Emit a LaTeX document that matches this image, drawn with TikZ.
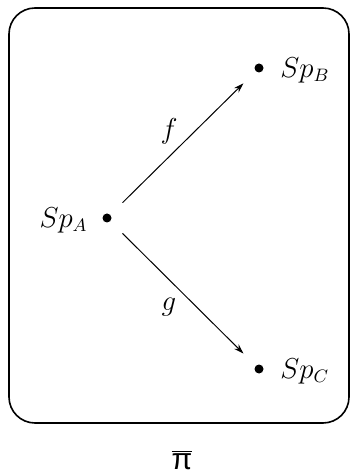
\documentclass[tikz,border=0pt]{standalone}
\usepackage{fontspec}
\newfontfamily\pisans{Liberation Sans}
\usetikzlibrary{arrows.meta}
\begin{document}
\begin{tikzpicture}[x=0.5pt,y=-0.5pt,
  dot/.style={circle,fill=black,inner sep=0pt,minimum size=4.5pt},
  lab/.style={inner sep=0pt,font=\fontsize{13.5}{16}\selectfont},
  conn/.style={line width=0.5pt,-{Stealth[length=5pt,width=3.2pt]},shorten <=8.5pt,shorten >=8.5pt},
  frame/.style={line width=0.8pt,rounded corners=13pt}]
\useasboundingbox (0,0) rectangle (351,474);
\draw[frame] (9,8) rectangle (349,423);
\node[dot] (A) at (107,218) {};
\node[dot] (B) at (259,68) {};
\node[dot] (C) at (259,369) {};
\node[lab,anchor=east] (tA) at (88,220) {$Sp_A$};
\node[lab,anchor=west] (tB) at (280,70) {$Sp_B$};
\node[lab,anchor=west] (tC) at (280,371) {$Sp_C$};
\draw[conn] (A) -- (B);
\draw[conn] (A) -- (C);
\node[lab] (f) at (169,131) {$f$};
\node[lab] (g) at (169,307) {$g$};
\node[inner sep=0pt,font=\fontsize{15}{17}\selectfont] (pi) at (182,460) {$\overline{\hbox{\pisans π}}$};
\end{tikzpicture}
\end{document}
